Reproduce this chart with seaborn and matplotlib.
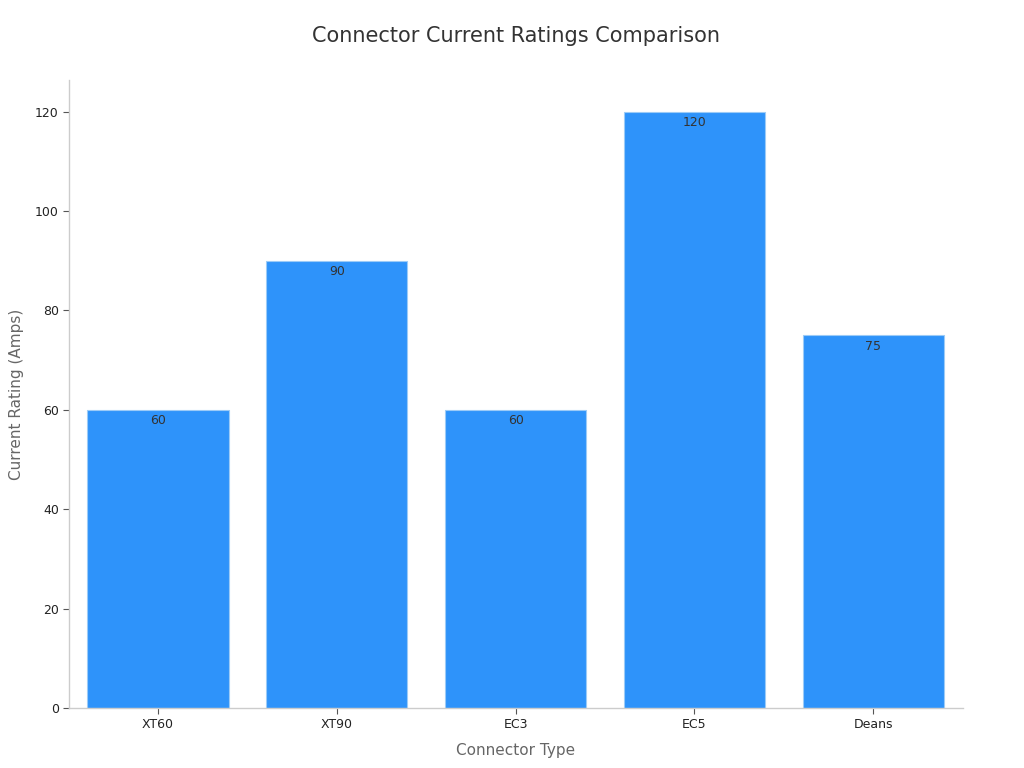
import seaborn as sns
import pandas as pd
import matplotlib.pyplot as plt

# data
connectors = ['XT60', 'XT90', 'EC3', 'EC5', 'Deans']
ratings = [60, 90, 60, 120, 75]

df = pd.DataFrame({'Connector Type': connectors, 'Current Rating (Amps)': ratings})

sns.set_style('white', {'xtick.bottom': True, 'ytick.left': True})
plt.rcParams['font.family'] = ['DejaVu Sans']

fig = plt.figure(figsize=(10.24, 7.68), dpi=100)
ax = fig.add_axes([0.067, 0.078, 0.873, 0.818])

sns.barplot(data=df, x='Connector Type', y='Current Rating (Amps)',
            color='#2E93FA', saturation=1, width=0.79,
            edgecolor='#9CCBF7', linewidth=0.8, ax=ax)

# value labels just inside bar tops
for i, v in enumerate(ratings):
    ax.annotate(str(v), (i, v), xytext=(0, -3), textcoords='offset points',
                ha='center', va='top', fontsize=9, color='#333333')

ax.set_xlim(-0.5, 4.5)
ax.set_ylim(0, 126.4)
ax.set_yticks([0, 20, 40, 60, 80, 100, 120])

ax.set_title('Connector Current Ratings Comparison', fontsize=15, color='#333333', pad=27)
ax.set_xlabel('Connector Type', fontsize=11, color='#666666', labelpad=9)
ax.set_ylabel('Current Rating (Amps)', fontsize=11, color='#666666', labelpad=8)

ax.tick_params(axis='both', labelsize=9, labelcolor='#222222', length=4, width=0.8,
               color='#555555', pad=3)

sns.despine(ax=ax)
for s in ['left', 'bottom']:
    ax.spines[s].set_color('#cccccc')
    ax.spines[s].set_linewidth(1)

fig.savefig('out.png', dpi=100)
